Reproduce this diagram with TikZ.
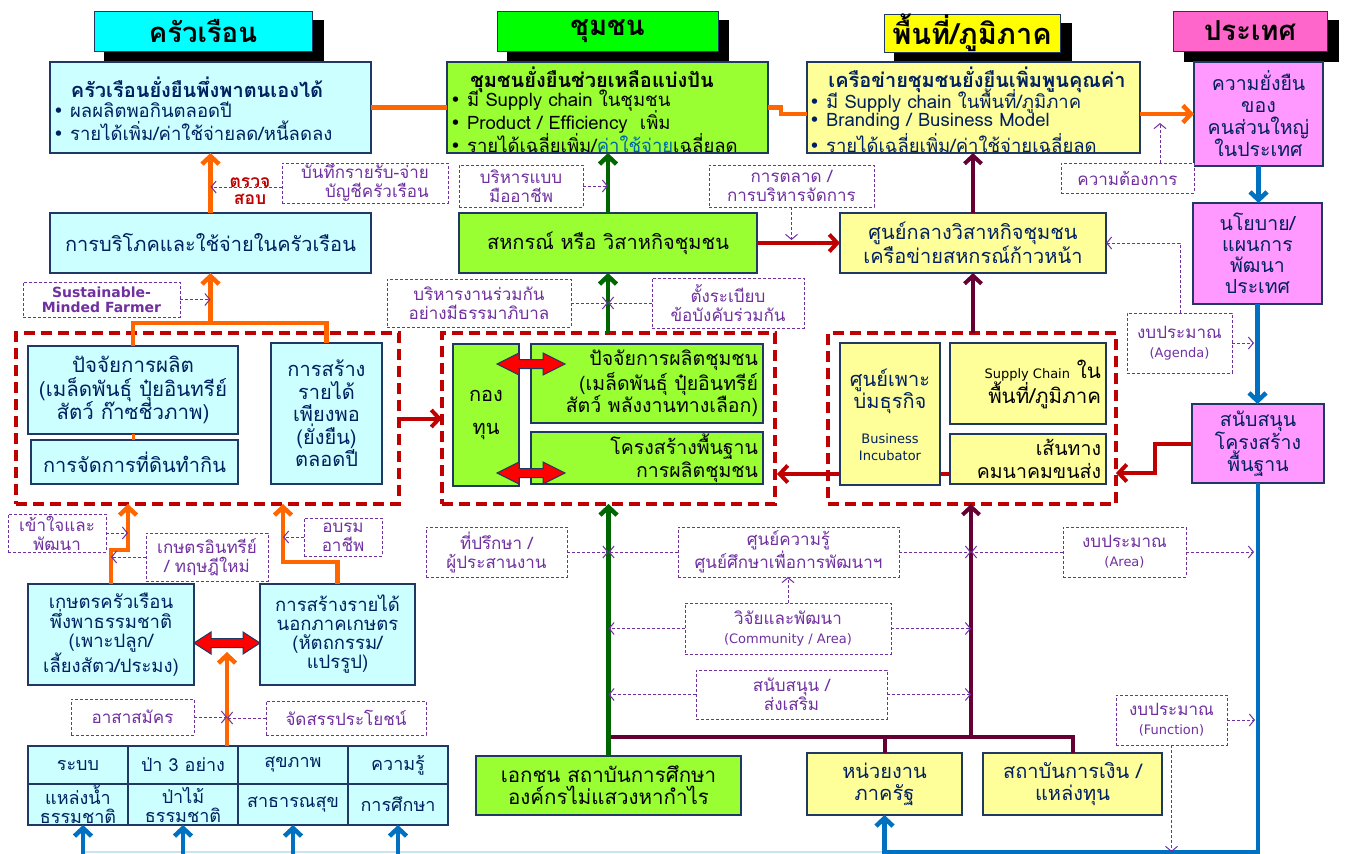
\documentclass[tikz,border=0pt]{standalone}
\usepackage{fontspec}
\setmainfont[Script=Thai]{Loma}
\newfontfamily\dejavu{DejaVu Sans}
\usetikzlibrary{arrows.meta,backgrounds}
\definecolor{navy}{RGB}{31,56,100}
\definecolor{tnavy}{RGB}{0,32,96}
\definecolor{hcyan}{RGB}{0,255,255}
\definecolor{hgreen}{RGB}{0,255,0}
\definecolor{hyellow}{RGB}{255,255,0}
\definecolor{hpink}{RGB}{255,102,204}
\definecolor{lcyan}{RGB}{204,255,255}
\definecolor{lgreen}{RGB}{153,255,51}
\definecolor{lyellow}{RGB}{255,255,153}
\definecolor{lpink}{RGB}{255,153,255}
\definecolor{purp}{RGB}{112,48,160}
\definecolor{orng}{RGB}{255,102,0}
\definecolor{dred}{RGB}{192,0,0}
\definecolor{dgreen}{RGB}{0,102,0}
\definecolor{maroon}{RGB}{102,0,51}
\definecolor{blu}{RGB}{0,112,192}
\definecolor{palebl}{RGB}{200,228,238}
\definecolor{cblue}{RGB}{0,102,170}
\newcommand\mybul{{\dejavu •}\ }
\newcommand\fz[2]{\fontsize{#1}{#2}\selectfont}
\tikzset{
 base/.style={anchor=north west, inner sep=0pt, outer sep=0pt, align=center},
 bx/.style={base, draw=navy, line width=1.3pt, text=tnavy, font=\fz{20}{24}},
 hdr/.style={base, draw=navy, line width=1pt, text=black, font=\bfseries\fz{27.5}{30}},
 dbox/.style={base, draw=purp, line width=1pt, dash pattern=on 3pt off 2pt, fill=white, text=purp, font=\fz{17}{19}},
 rdbox/.style={base, draw=dred, line width=3.5pt, dash pattern=on 11pt off 6pt},
 txt/.style={inner sep=0pt, outer sep=0pt},
 darr/.style={draw=purp, line width=1pt, dash pattern=on 3pt off 2pt, -{Straight Barb[length=5pt,width=12pt]}},
 oline/.style={draw=orng, line width=4.5pt},
 oarr/.style={oline, -{Straight Barb[length=8pt,width=17pt]}},
 rline/.style={draw=dred, line width=4pt},
 rarr/.style={rline, -{Straight Barb[length=8pt,width=17pt]}},
 garr/.style={draw=dgreen, line width=4.5pt, -{Straight Barb[length=8pt,width=17pt]}},
 mline/.style={draw=maroon, line width=4pt},
 marr/.style={mline, -{Straight Barb[length=8pt,width=17pt]}},
 bline/.style={draw=blu, line width=4.5pt},
 barr/.style={bline, -{Straight Barb[length=8pt,width=17pt]}},
 blk/.style={fill=red, draw=navy, line width=1pt},
}
\begin{document}
\begin{tikzpicture}[x=1pt,y=-1pt]
\useasboundingbox (0,0) rectangle (1347,854);
\begin{scope}[on background layer]
\fill[white] (0,0) rectangle (1347,854);
\end{scope}

% ---------- headers ----------
\fill[black] (104,20) rectangle (324,62);
\fill[black] (507,20) rectangle (729,62);
\fill[black] (894,23) rectangle (1072,62);
\fill[black] (1184,20) rectangle (1339,62);
\node[hdr, fill=hcyan, minimum width=218pt, minimum height=40pt] (h1) at (94,11) {ครัวเรือน};
\node[hdr, fill=hgreen, minimum width=221pt, minimum height=40pt] (h2) at (497,11) {ชุมชน};
\node[hdr, fill=hyellow, minimum width=176pt, minimum height=38pt, font=\bfseries\fz{29}{30}] (h3) at (884,14) {พื้นที่/ภูมิภาค};
\node[hdr, fill=hpink, minimum width=154pt, minimum height=40pt] (h4) at (1173,11) {ประเทศ};

% ---------- top row ----------
\node[bx, fill=lcyan, minimum width=321pt, minimum height=91pt] (hh) at (50,62) {};
\node[txt, text=tnavy, font=\bfseries\fz{20}{22}] (hht) at (197,87) {ครัวเรือนยั่งยืนพึ่งพาตนเองได้};
\node[txt, anchor=west, text=tnavy, font=\fz{18.5}{20}] (hhb1) at (53,110) {\mybul ผลผลิตพอกินตลอดปี};
\node[txt, anchor=west, text=tnavy, font=\fz{18.5}{20}] (hhb2) at (53,131) {\mybul รายได้เพิ่ม/ค่าใช้จ่ายลด/หนี้ลดลง};

\node[bx, fill=lgreen, minimum width=321pt, minimum height=91pt] (cm) at (447,62) {};
\node[txt, text=black, font=\bfseries\fz{20}{22}] (cmt) at (592,80) {ชุมชนยั่งยืนช่วยเหลือแบ่งปัน};
\node[txt, anchor=west, text=black, font=\fz{18.5}{20}] (cmb1) at (450,101) {\mybul มี Supply chain ในชุมชน};
\node[txt, anchor=west, text=black, font=\fz{18.5}{20}] (cmb2) at (450,122) {\mybul Product / Efficiency\ \ เพิ่ม};
\node[txt, anchor=west, text=black, font=\fz{18.5}{20}] (cmb3) at (450,143) {\mybul รายได้เฉลี่ยเพิ่ม/\textcolor{cblue}{ค่าใช้จ่าย}เฉลี่ยลด};

\node[bx, fill=lyellow, minimum width=333pt, minimum height=91pt] (rg) at (807,62) {};
\node[txt, text=tnavy, font=\bfseries\fz{20}{22}] (rgt) at (977,80) {เครือข่ายชุมชนยั่งยืนเพิ่มพูนคุณค่า};
\node[txt, anchor=west, text=tnavy, font=\fz{18.5}{20}] (rgb1) at (809,101) {\mybul มี Supply chain ในพื้นที่/ภูมิภาค};
\node[txt, anchor=west, text=tnavy, font=\fz{18.5}{20}] (rgb2) at (809,122) {\mybul Branding / Business Model};
\node[txt, anchor=west, text=tnavy, font=\fz{18.5}{20}] (rgb3) at (809,143) {\mybul รายได้เฉลี่ยเพิ่ม/ค่าใช้จ่ายเฉลี่ยลด};

\node[bx, fill=lpink, minimum width=129pt, minimum height=104pt, font=\fz{19.5}{22}] (ct) at (1194,62) {ความยั่งยืน\\ของ\\คนส่วนใหญ่\\ในประเทศ};

% ---------- household column ----------
\node[bx, fill=lcyan, minimum width=321pt, minimum height=60pt] (cons) at (50,213) {การบริโภคและใช้จ่ายในครัวเรือน};
\node[dbox, minimum width=166pt, minimum height=40pt, align=right] (chk) at (282,163) {บันทึกรายรับ-จ่าย\\บัญชีครัวเรือน};
\node[txt, text=dred, font=\bfseries\fz{17.5}{17}, align=center] (chkl) at (250,191) {ตรวจ\\สอบ};
\node[dbox, minimum width=157pt, minimum height=35pt, font=\dejavu\bfseries\fz{14}{15}] (sus) at (23,282) {Sustainable-\\Minded Farmer};

\node[rdbox, minimum width=383pt, minimum height=171pt] (ldash) at (16,333) {};
\node[bx, fill=lcyan, minimum width=210pt, minimum height=88pt, font=\fz{20.5}{23.5}] (fac) at (28,346) {ปัจจัยการผลิต\\(เมล็ดพันธุ์ ปุ๋ยอินทรีย์\\สัตว์ ก๊าซชีวภาพ)};
\node[bx, fill=lcyan, minimum width=207pt, minimum height=44pt] (land) at (31,440) {การจัดการที่ดินทำกิน};
\node[bx, fill=lcyan, minimum width=111pt, minimum height=141pt, font=\fz{20}{22.5}] (inc) at (271,343) {การสร้าง\\รายได้\\เพียงพอ\\(ยั่งยืน)\\ตลอดปี};

\node[dbox, minimum width=98pt, minimum height=38pt] (und) at (8,514) {เข้าใจและ\\พัฒนา};
\node[dbox, minimum width=122pt, minimum height=48pt] (org) at (146,533) {เกษตรอินทรีย์\\/ ทฤษฎีใหม่};
\node[dbox, minimum width=78pt, minimum height=38pt] (trn) at (304,518) {อบรม\\อาชีพ};

\node[bx, fill=lcyan, minimum width=166pt, minimum height=101pt, font=\fz{18.5}{19}] (farm) at (28,584) {เกษตรครัวเรือน\\พึ่งพาธรรมชาติ\\(เพาะปลูก/\\เลี้ยงสัตว/ประมง)};
\node[bx, fill=lcyan, minimum width=155pt, minimum height=101pt, font=\fz{18.5}{19}] (offf) at (260,584) {การสร้างรายได้\\นอกภาคเกษตร\\(หัตถกรรม/\\แปรรูป)};

\node[dbox, minimum width=123pt, minimum height=36pt] (vol) at (71,699) {อาสาสมัคร};
\node[dbox, minimum width=160pt, minimum height=34pt] (ben) at (266,701) {จัดสรรประโยชน์};

\node[bx, fill=lcyan, minimum width=100pt, minimum height=38pt, font=\fz{18}{19}] (t11) at (28,746) {ระบบ};
\node[bx, fill=lcyan, minimum width=110pt, minimum height=38pt, font=\fz{18}{19}] (t12) at (128,746) {ป่า 3 อย่าง};
\node[bx, fill=lcyan, minimum width=110pt, minimum height=38pt, font=\fz{18}{19}] (t13) at (238,746) {สุขภาพ};
\node[bx, fill=lcyan, minimum width=100pt, minimum height=38pt, font=\fz{18}{19}] (t14) at (348,746) {ความรู้};
\node[bx, fill=lcyan, minimum width=100pt, minimum height=41pt, font=\fz{18}{19}] (t21) at (28,784) {แหล่งน้ำ\\ธรรมชาติ};
\node[bx, fill=lcyan, minimum width=110pt, minimum height=41pt, font=\fz{18}{19}] (t22) at (128,784) {ป่าไม้\\ธรรมชาติ};
\node[bx, fill=lcyan, minimum width=110pt, minimum height=41pt, font=\fz{18}{19}] (t23) at (238,784) {สาธารณสุข};
\node[bx, fill=lcyan, minimum width=100pt, minimum height=41pt, font=\fz{18}{19}] (t24) at (348,784) {การศึกษา};

% ---------- community column ----------
\node[bx, fill=lgreen, text=black, minimum width=298pt, minimum height=60pt] (coop) at (459,213) {สหกรณ์ หรือ วิสาหกิจชุมชน};
\node[dbox, minimum width=124pt, minimum height=42pt] (mgr) at (459,165) {บริหารแบบ\\มืออาชีพ};
\node[dbox, minimum width=165pt, minimum height=42pt] (mkt) at (709,165) {การตลาด /\\การบริหารจัดการ};
\node[dbox, minimum width=184pt, minimum height=48pt] (gov) at (387,279) {บริหารงานร่วมกัน\\อย่างมีธรรมาภิบาล};
\node[dbox, minimum width=152pt, minimum height=50pt] (rul) at (652,278) {ตั้งระเบียบ\\ข้อบังคับร่วมกัน};

\node[rdbox, minimum width=333pt, minimum height=171pt] (cdash) at (442,333) {};
\node[bx, fill=lgreen, text=black, minimum width=66pt, minimum height=142pt, font=\fz{20}{33}] (fund) at (453,344) {กอง\\ทุน};
\node[bx, fill=lgreen, minimum width=232pt, minimum height=79pt] (pfac) at (531,344) {};
\node[txt, anchor=east, align=right, text=black, font=\fz{19.5}{22.5}] (pfact) at ([xshift=-5pt]pfac.east) {ปัจจัยการผลิตชุมชน\\(เมล็ดพันธุ์ ปุ๋ยอินทรีย์\\สัตว์ พลังงานทางเลือก)};
\node[bx, fill=lgreen, minimum width=232pt, minimum height=52pt] (pinf) at (531,432) {};
\node[txt, anchor=east, align=right, text=black, font=\fz{19.5}{23}] (pinft) at ([xshift=-5pt]pinf.east) {โครงสร้างพื้นฐาน\\การผลิตชุมชน};

\node[dbox, minimum width=141pt, minimum height=50pt] (adv) at (426,527) {ที่ปรึกษา /\\ผู้ประสานงาน};
\node[dbox, minimum width=221pt, minimum height=50pt] (knw) at (678,527) {ศูนย์ความรู้\\ศูนย์ศึกษาเพื่อการพัฒนาฯ};
\node[dbox, minimum width=206pt, minimum height=51pt] (rnd) at (685,603) {วิจัยและพัฒนา\\{\dejavu\fz{13}{16}(Community / Area)}};
\node[dbox, minimum width=191pt, minimum height=49pt] (sup) at (696,670) {สนับสนุน /\\ส่งเสริม};
\node[bx, fill=lgreen, text=black, minimum width=265pt, minimum height=59pt, font=\fz{20.5}{22}] (pvt) at (476,756) {เอกชน สถาบันการศึกษา\\องค์กรไม่แสวงหากำไร};

% ---------- region column ----------
\node[bx, fill=lyellow, minimum width=266pt, minimum height=60pt, font=\fz{20}{20}] (cen) at (840,213) {ศูนย์กลางวิสาหกิจชุมชน\\เครือข่ายสหกรณ์ก้าวหน้า};
\node[rdbox, minimum width=288pt, minimum height=171pt] (rdash) at (828,333) {};
\node[bx, fill=lyellow, minimum width=100pt, minimum height=142pt] (incu) at (840,343) {};
\node[txt, text=tnavy, font=\fz{20}{22}, align=center] (incut) at (890,391) {ศูนย์เพาะ\\บ่มธุรกิจ};
\node[txt, text=tnavy, font=\dejavu\fz{13}{17}, align=center] (incue) at (890,447) {Business\\Incubator};
\node[bx, fill=lyellow, minimum width=156pt, minimum height=81pt] (sc) at (950,343) {};
\node[txt, anchor=east, align=right, text=black, font=\fz{20.5}{24}] (sct) at ([xshift=-5pt,yshift=-1pt]sc.east) {{\dejavu\fz{13}{24}Supply Chain} ใน\\พื้นที่/ภูมิภาค};
\node[bx, fill=lyellow, minimum width=156pt, minimum height=50pt] (route) at (950,434) {};
\node[txt, anchor=east, align=right, text=black, font=\fz{19.5}{23}] (routet) at ([xshift=-5pt]route.east) {เส้นทาง\\คมนาคมขนส่ง};
\node[dbox, minimum width=133pt, minimum height=30pt] (need) at (1061,163) {ความต้องการ};
\node[dbox, minimum width=105pt, minimum height=60pt] (bgag) at (1127,313) {งบประมาณ\\{\dejavu\fz{13}{16}(Agenda)}};
\node[dbox, minimum width=123pt, minimum height=50pt] (bga) at (1063,527) {งบประมาณ\\{\dejavu\fz{13}{16}(Area)}};
\node[dbox, minimum width=111pt, minimum height=50pt] (bgf) at (1116,695) {งบประมาณ\\{\dejavu\fz{13}{16}(Function)}};
\node[bx, fill=lyellow, minimum width=155pt, minimum height=62pt, font=\fz{20}{22}] (gova) at (807,753) {หน่วยงาน\\ภาครัฐ};
\node[bx, fill=lyellow, minimum width=179pt, minimum height=62pt, font=\fz{20}{22}] (fin) at (983,753) {สถาบันการเงิน /\\แหล่งทุน};

% ---------- country column ----------
\node[bx, fill=lpink, minimum width=129pt, minimum height=101pt, font=\fz{19.5}{21}] (pol) at (1193,203) {นโยบาย/\\แผนการ\\พัฒนา\\ประเทศ};
\node[bx, fill=lpink, minimum width=132pt, minimum height=79pt, font=\fz{19.5}{21.5}] (inf) at (1192,404) {สนับสนุน\\โครงสร้าง\\พื้นฐาน};

% ---------- coordinates ----------
\coordinate (jn) at (210.5,323);
\coordinate (la1) at (128,550);
\coordinate (la2) at (283,562);
\coordinate (la3) at (227,652);
\coordinate (mj) at (971,737);
\coordinate (rj) at (1155,473);
\coordinate (rk) at (950,474);
\coordinate (bj) at (1257,852);
\coordinate (ag) at (1180,313);
\coordinate (nd) at (1160,163);
\coordinate (b1) at (83,854);
\coordinate (b2) at (183,854);
\coordinate (b3) at (293,854);
\coordinate (b4) at (398,854);

% ---------- orange connectors ----------
\draw[oline] (hh.east) -- (cm.west);
\draw[oline] (cm.east) -- ++(13,0) |- ([yshift=-6.5pt]rg.west);
\draw[oarr] ([yshift=-6.5pt]rg.east) -- ([yshift=-6.5pt]rg.east -| ct.west);
\draw[oarr] (cons.north) -- (hh.south);
\draw[oline] (fac.north) |- (inc.north |- jn) -- (inc.north);
\draw[oarr] (jn) -- (cons.south);
\draw[draw=orng, line width=3pt] (fac.south) -- (fac.south |- land.north);
\draw[oarr] (farm.north) |- (la1) -- (la1 |- ldash.south);
\draw[oarr] (offf.north) |- (la2) -- (la2 |- ldash.south);
\draw[oarr] (la3 |- t12.north) -- (la3);

% ---------- red connectors ----------
\draw[rarr] (ldash.east) -- (ldash.east -| cdash.west);
\draw[rarr] (coop.east) -- (coop.east -| cen.west);
\draw[rarr] (inf.west) -| (rj) -- (rj -| rdash.east);
\begin{scope}[on background layer]
\draw[rarr] (rk) -- ([xshift=2pt]rk -| cdash.east);
\end{scope}

% ---------- green / maroon ----------
\draw[garr] (coop.north) -- (coop.north |- cm.south);
\draw[garr] (coop.south |- cdash.north) -- (coop.south);
\draw[mline] (pvt.north |- mj) -| (fin.north);
\draw[mline] (gova.north |- mj) -- (gova.north);
\draw[garr] (pvt.north) -- (pvt.north |- cdash.south);
\draw[marr] (mj) -- (mj |- rdash.south);
\draw[marr] (cen.south |- rdash.north) -- (cen.south);
\draw[marr] (cen.north) -- (cen.north |- rg.south);

% ---------- blue ----------
\draw[barr] (ct.south) -- (ct.south |- pol.north);
\draw[barr] (pol.south) -- (pol.south |- inf.north);
\draw[draw=palebl, line width=2pt] (gova.south |- bj) -- (b1 |- bj);
\draw[barr] (inf.south) |- (gova.south |- bj) -- (gova.south);
\draw[barr] (b1) -- (b1 |- t21.south);
\draw[barr] (b2) -- (b2 |- t22.south);
\draw[barr] (b3) -- (b3 |- t23.south);
\draw[barr] (b4) -- (b4 |- t24.south);

% ---------- block arrows ----------
\filldraw[blk] (194,643) -- (211,632) -- (211,638.5) -- (243,638.5) -- (243,632) -- (260,643) -- (243,654) -- (243,647.5) -- (211,647.5) -- (211,654) -- cycle;
\filldraw[blk] (497,364) -- (519,353) -- (519,359.5) -- (543,359.5) -- (543,353) -- (565,364) -- (543,375) -- (543,368.5) -- (519,368.5) -- (519,375) -- cycle;
\filldraw[blk] (497,473) -- (519,462) -- (519,468.5) -- (543,468.5) -- (543,462) -- (565,473) -- (543,484) -- (543,477.5) -- (519,477.5) -- (519,484) -- cycle;

% ---------- dashed arrows ----------
\draw[darr] ([yshift=-4pt]chk.west) -- ([yshift=-4pt]chk.west -| cons.north);
\draw[darr] (sus.east) -- (sus.east -| cons.south);
\draw[darr] (und.east) -- (und.east -| la1);
\draw[darr] (org.west) -- (org.west -| farm.north);
\draw[darr] (trn.west) -- (trn.west -| la2);
\draw[darr] (vol.east) -- (vol.east -| la3);
\draw[darr] (ben.west) -- (ben.west -| la3);
\draw[darr] (mgr.east) -- (mgr.east -| coop.north);
\draw[darr] (mkt.south) -- ([yshift=3pt]mkt.south |- coop.east);
\draw[darr] (gov.east) -- (gov.east -| coop.south);
\draw[darr] (rul.west) -- (rul.west -| coop.south);
\draw[darr] (adv.east) -- (adv.east -| pvt.north);
\draw[darr] (knw.west) -- (knw.west -| pvt.north);
\draw[darr] (knw.east) -- (knw.east -| mj);
\draw[darr] (bga.west) -- (bga.west -| mj);
\draw[darr, shorten >=3pt] (bga.east) -- (bga.east -| bj);
\draw[darr] (rnd.west) -- (rnd.west -| pvt.north);
\draw[darr] (rnd.east) -- (rnd.east -| mj);
\draw[darr] (rnd.north) -- (rnd.north |- knw.south);
\draw[darr] (sup.west) -- (sup.west -| pvt.north);
\draw[darr] (sup.east) -- (sup.east -| mj);
\draw[darr, shorten >=2pt] (bgf.east) -- (bgf.east -| bj);
\draw[darr] (bgf.south) -- (bgf.south |- bj);
\draw[darr, shorten >=3pt] (bgag.east) -- (bgag.east -| bj);
\draw[darr] (ag) |- (cen.east);
\draw[darr] (nd) -- ++(0,-40);
\end{tikzpicture}
\end{document}
